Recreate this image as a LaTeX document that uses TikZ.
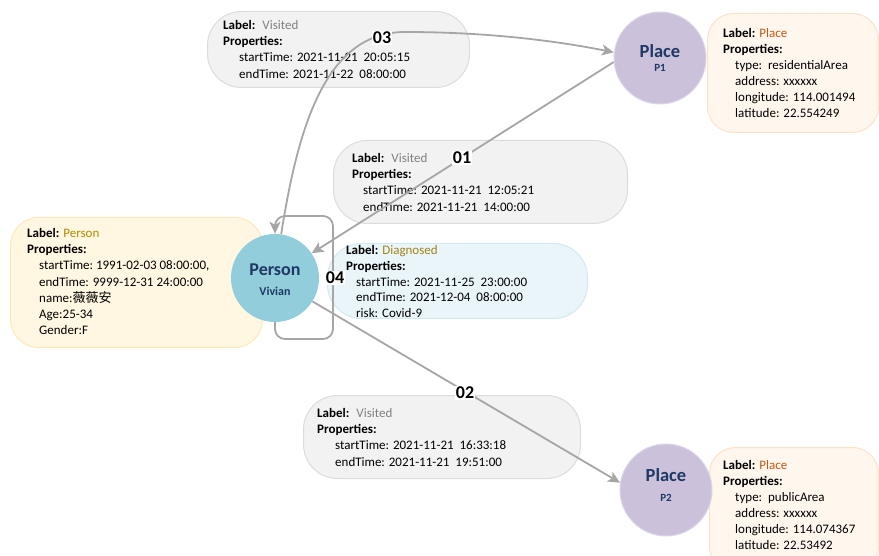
\documentclass[tikz,border=0pt]{standalone}
\usepackage{fontspec}
\setmainfont{Carlito}
\newfontfamily\cjk{Noto Sans CJK SC}
\usetikzlibrary{arrows.meta}
\definecolor{grayfill}{HTML}{F2F2F2}
\definecolor{grayline}{HTML}{DCDCDC}
\definecolor{personfill}{HTML}{FFF7E1}
\definecolor{personline}{HTML}{FCE9B8}
\definecolor{placefill}{HTML}{FFF6EE}
\definecolor{placeline}{HTML}{FCE3C6}
\definecolor{diagfill}{HTML}{EAF5F9}
\definecolor{diagline}{HTML}{D3E9F1}
\definecolor{personcirc}{HTML}{92CDDC}
\definecolor{placecirc}{HTML}{CCC1DA}
\definecolor{placecircline}{HTML}{DDD6E8}
\definecolor{navy}{HTML}{1F3864}
\definecolor{visgray}{HTML}{808080}
\definecolor{placelab}{HTML}{C55A11}
\definecolor{personlab}{HTML}{B08A00}
\definecolor{diaglab}{HTML}{A08418}
\definecolor{edgegray}{HTML}{A6A6A6}
\begin{document}
\begin{tikzpicture}[x=1pt,y=-1pt,
  box/.style={anchor=north west, inner sep=0pt, line width=1pt},
  graybox/.style={box, fill=grayfill, draw=grayline, rounded corners=34pt},
  personbox/.style={box, fill=personfill, draw=personline, rounded corners=28pt},
  placebox/.style={box, fill=placefill, draw=placeline, rounded corners=26pt},
  diagbox/.style={box, fill=diagfill, draw=diagline, rounded corners=34pt},
  props/.style={anchor=base west, align=left, inner sep=0pt, font=\fontsize{13}{16.2}\selectfont},
  circ/.style={circle, inner sep=0pt, minimum size=88pt},
  ctitle/.style={inner sep=0pt, text=navy, font=\bfseries\fontsize{18.5}{20}\selectfont},
  csub/.style={inner sep=0pt, text=navy, font=\bfseries\fontsize{12}{14}\selectfont},
  edge/.style={draw=edgegray, line width=1.8pt, -{Stealth[length=12pt,width=11pt,inset=3pt]}},
  num/.style={fill=white, inner sep=1pt, font=\bfseries\fontsize{18}{18}\selectfont},
]
\useasboundingbox (0,0) rectangle (879,556);

% ---------- boxes ----------
\node[graybox, minimum width=262pt, minimum height=76pt] (v03box) at (207,11) {};
\node[graybox, minimum width=294pt, minimum height=83pt] (v01box) at (333,140) {};
\node[graybox, minimum width=277pt, minimum height=83pt] (v02box) at (303,395) {};
\node[personbox, minimum width=252pt, minimum height=130pt] (perbox) at (10,217) {};
\node[diagbox, minimum width=260pt, minimum height=75pt] (diagbox) at (327,243) {};
\node[placebox, minimum width=171pt, minimum height=119pt] (p1box) at (707,13) {};
\node[placebox, minimum width=169pt, minimum height=125pt] (p2box) at (709,447) {};

% ---------- box texts (base anchor = baseline of last line) ----------
\node[props] (v03txt) at (223,78.1) {\textbf{Label:}\hspace{7pt}\textcolor{visgray}{Visited}\\
  \textbf{Properties:}\\
  \hspace*{16pt}startTime: 2021-11-21\ \ 20:05:15\\
  \hspace*{16pt}endTime: 2021-11-22\ \ 08:00:00};
\node[props] (v01txt) at (352,211.1) {\textbf{Label:}\hspace{7pt}\textcolor{visgray}{Visited}\\
  \textbf{Properties:}\\
  \hspace*{11pt}startTime: 2021-11-21\ \ 12:05:21\\
  \hspace*{11pt}endTime: 2021-11-21\ \ 14:00:00};
\node[props] (v02txt) at (317,466.1) {\textbf{Label:}\hspace{7pt}\textcolor{visgray}{Visited}\\
  \textbf{Properties:}\\
  \hspace*{18pt}startTime: 2021-11-21\ \ 16:33:18\\
  \hspace*{18pt}endTime: 2021-11-21\ \ 19:51:00};
\node[props] (pertxt) at (27,334.7) {\textbf{Label:} \textcolor{personlab}{Person}\\
  \textbf{Properties:}\\
  \hspace*{12pt}startTime:\ 1991-02-03 08:00:00,\\
  \hspace*{12pt}endTime: 9999-12-31 24:00:00\\
  \hspace*{12pt}name:{\cjk 薇薇安}\\
  \hspace*{12pt}Age:25-34\\
  \hspace*{12pt}Gender:F};
\node[props, font=\fontsize{13}{15.8}\selectfont] (diagtxt) at (346,317.7) {\textbf{Label:} \textcolor{diaglab}{Diagnosed}\\
  \textbf{Properties:}\\
  \hspace*{10pt}startTime: 2021-11-25\ \ 23:00:00\\
  \hspace*{10pt}endTime: 2021-12-04\ \ 08:00:00\\
  \hspace*{10pt}risk: Covid-9};
\node[props, font=\fontsize{13}{16}\selectfont] (p1txt) at (723,117.5) {\textbf{Label:} \textcolor{placelab}{Place}\\
  \textbf{Properties:}\\
  \hspace*{12pt}type:\ \ residentialArea\\
  \hspace*{12pt}address: xxxxxx\\
  \hspace*{12pt}longitude: 114.001494\\
  \hspace*{12pt}latitude: 22.554249};
\node[props, font=\fontsize{13}{16}\selectfont] (p2txt) at (723,549.5) {\textbf{Label:} \textcolor{placelab}{Place}\\
  \textbf{Properties:}\\
  \hspace*{12pt}type:\ \ publicArea\\
  \hspace*{12pt}address: xxxxxx\\
  \hspace*{12pt}longitude: 114.074367\\
  \hspace*{12pt}latitude: 22.53492};

% ---------- circles ----------
\node[circ, fill=personcirc] (person) at (275,278) {};
\node[circ, minimum size=92pt, fill=placecirc, draw=placecircline, line width=1pt] (p1) at (660,58) {};
\node[circ, minimum size=92pt, fill=placecirc, draw=placecircline, line width=1pt] (p2) at (666,490) {};
\node[ctitle, font=\bfseries\fontsize{18}{20}\selectfont] (persont) at (275,270) {Person};
\node[csub] (persons) at (275,291.5) {Vivian};
\node[ctitle] (p1t) at (660,51.5) {Place};
\node[csub, font=\bfseries\fontsize{11}{13}\selectfont] (p1s) at (660,68.3) {P1};
\node[ctitle] (p2t) at (666,475) {Place};
\node[csub, font=\bfseries\fontsize{11}{13}\selectfont] (p2s) at (666,498.3) {P2};

% ---------- edges ----------
\coordinate (c03) at (405,32);
\draw[edge] (person.82) .. controls (298,128) and (325,32) .. (c03)
  .. controls (475,32) and (544,38.4) .. (p1.173);
\draw[edge] (p1.185) -- (person.34);
\draw[edge] (person.-32) -- (p2.171);
\coordinate (lbl) at (275,339);
\coordinate (lbr) at (333,339);
\coordinate (ltr) at (333,216);
\coordinate (ltl) at (275,216);
\draw[edge, rounded corners=10pt] (person.south) -- (lbl) -- (lbr) -- (ltr) -- (ltl) -- (person.north);

% ---------- edge labels ----------
\node[num] (n03) at (382,38) {03};
\node[num] (n01) at (462,158) {01};
\node[num] (n02) at (465,393) {02};
\node[num] (n04) at (335,278) {04};
\end{tikzpicture}
\end{document}
